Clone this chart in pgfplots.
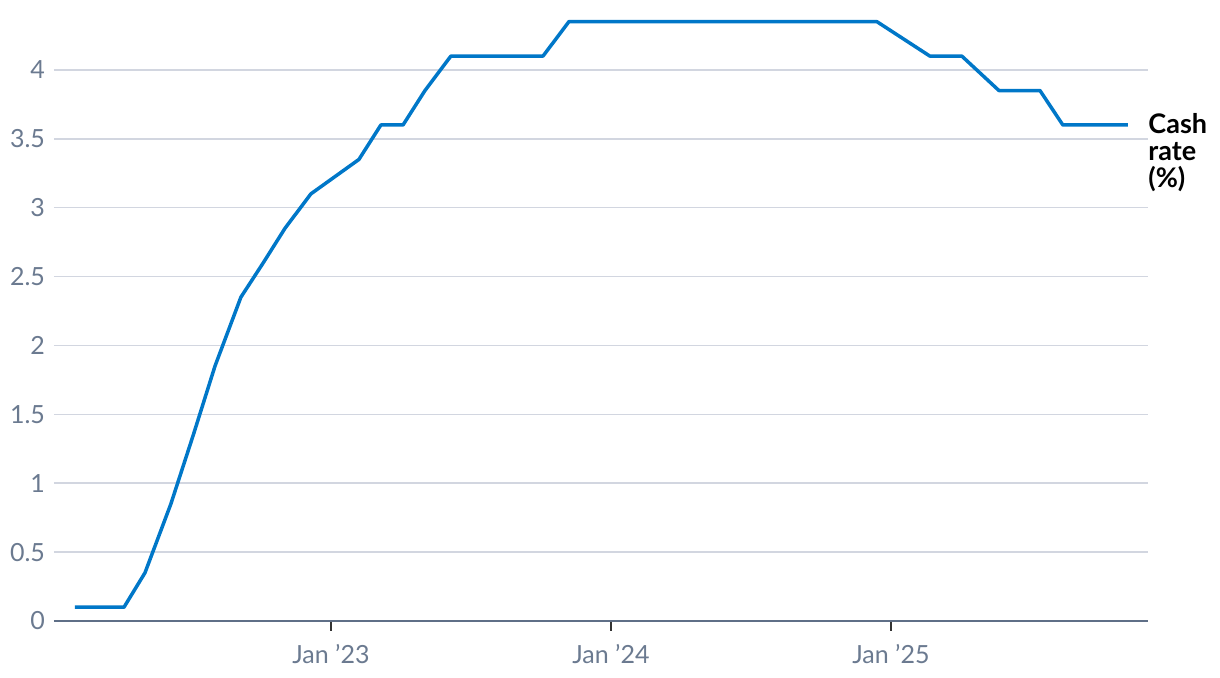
\documentclass[border=0pt]{standalone}
\usepackage{fontspec}
\setmainfont{Lato}
\usepackage{pgfplots}
\pgfplotsset{compat=1.18}
\definecolor{rateblue}{HTML}{0077C8}
\definecolor{ticktext}{HTML}{6B7A90}
\definecolor{axisline}{HTML}{5F6F87}
\definecolor{gridc}{HTML}{D2D6E0}
\begin{document}
\begin{tikzpicture}
\begin{axis}[
  at={(0,0)}, anchor=origin,
  scale only axis, width=547pt, height=310pt,
  xmin=0.13, xmax=47.02, ymin=0, ymax=4.5,
  axis x line*=bottom, axis y line*=left,
  x axis line style={draw=axisline, line width=1.2pt},
  y axis line style={draw=none},
  xtick={12,24,36}, xticklabels={Jan ’23, Jan ’24, Jan ’25},
  major tick length=5pt,
  xtick style={draw=black!80, line width=0.9pt},
  xtick align=outside,
  ytick={0,0.5,...,4},
  yticklabels={0,0.5,1,1.5,2,2.5,3,3.5,4},
  ymajorgrids, grid style={draw=gridc, line width=0.8pt},
  tick label style={font=\fontsize{12.5}{14}\selectfont, text=ticktext},
  ytick style={draw=none},
  yticklabel style={anchor=east, xshift=-1pt},
  xticklabel style={yshift=-3pt},
  clip=false,
]
\addplot[draw=rateblue, line width=1.75pt, line join=round] coordinates {
  (1.03,0.1) (3.13,0.1) (4.03,0.35) (5.14,0.85) (6.1,1.35) (7.03,1.85)
  (8.14,2.35) (9.1,2.6) (10.03,2.85) (11.14,3.1) (13.2,3.35) (14.14,3.6)
  (15.09,3.6) (16.03,3.85) (17.14,4.1) (21.09,4.1) (22.2,4.35) (35.4,4.35)
  (37.67,4.1) (39.04,4.1) (40.63,3.85) (42.39,3.85) (43.37,3.6) (46.16,3.6)};
\end{axis}
\node[anchor=north west, align=left, font=\fontsize{13.5}{13.5}\selectfont\bfseries,
  inner sep=0pt] at (547pt,254pt) {Cash\\rate\\(\%)};
\pgfresetboundingbox
\path (-27pt,-28.5pt) rectangle (583pt,310.5pt);
\end{tikzpicture}
\end{document}
